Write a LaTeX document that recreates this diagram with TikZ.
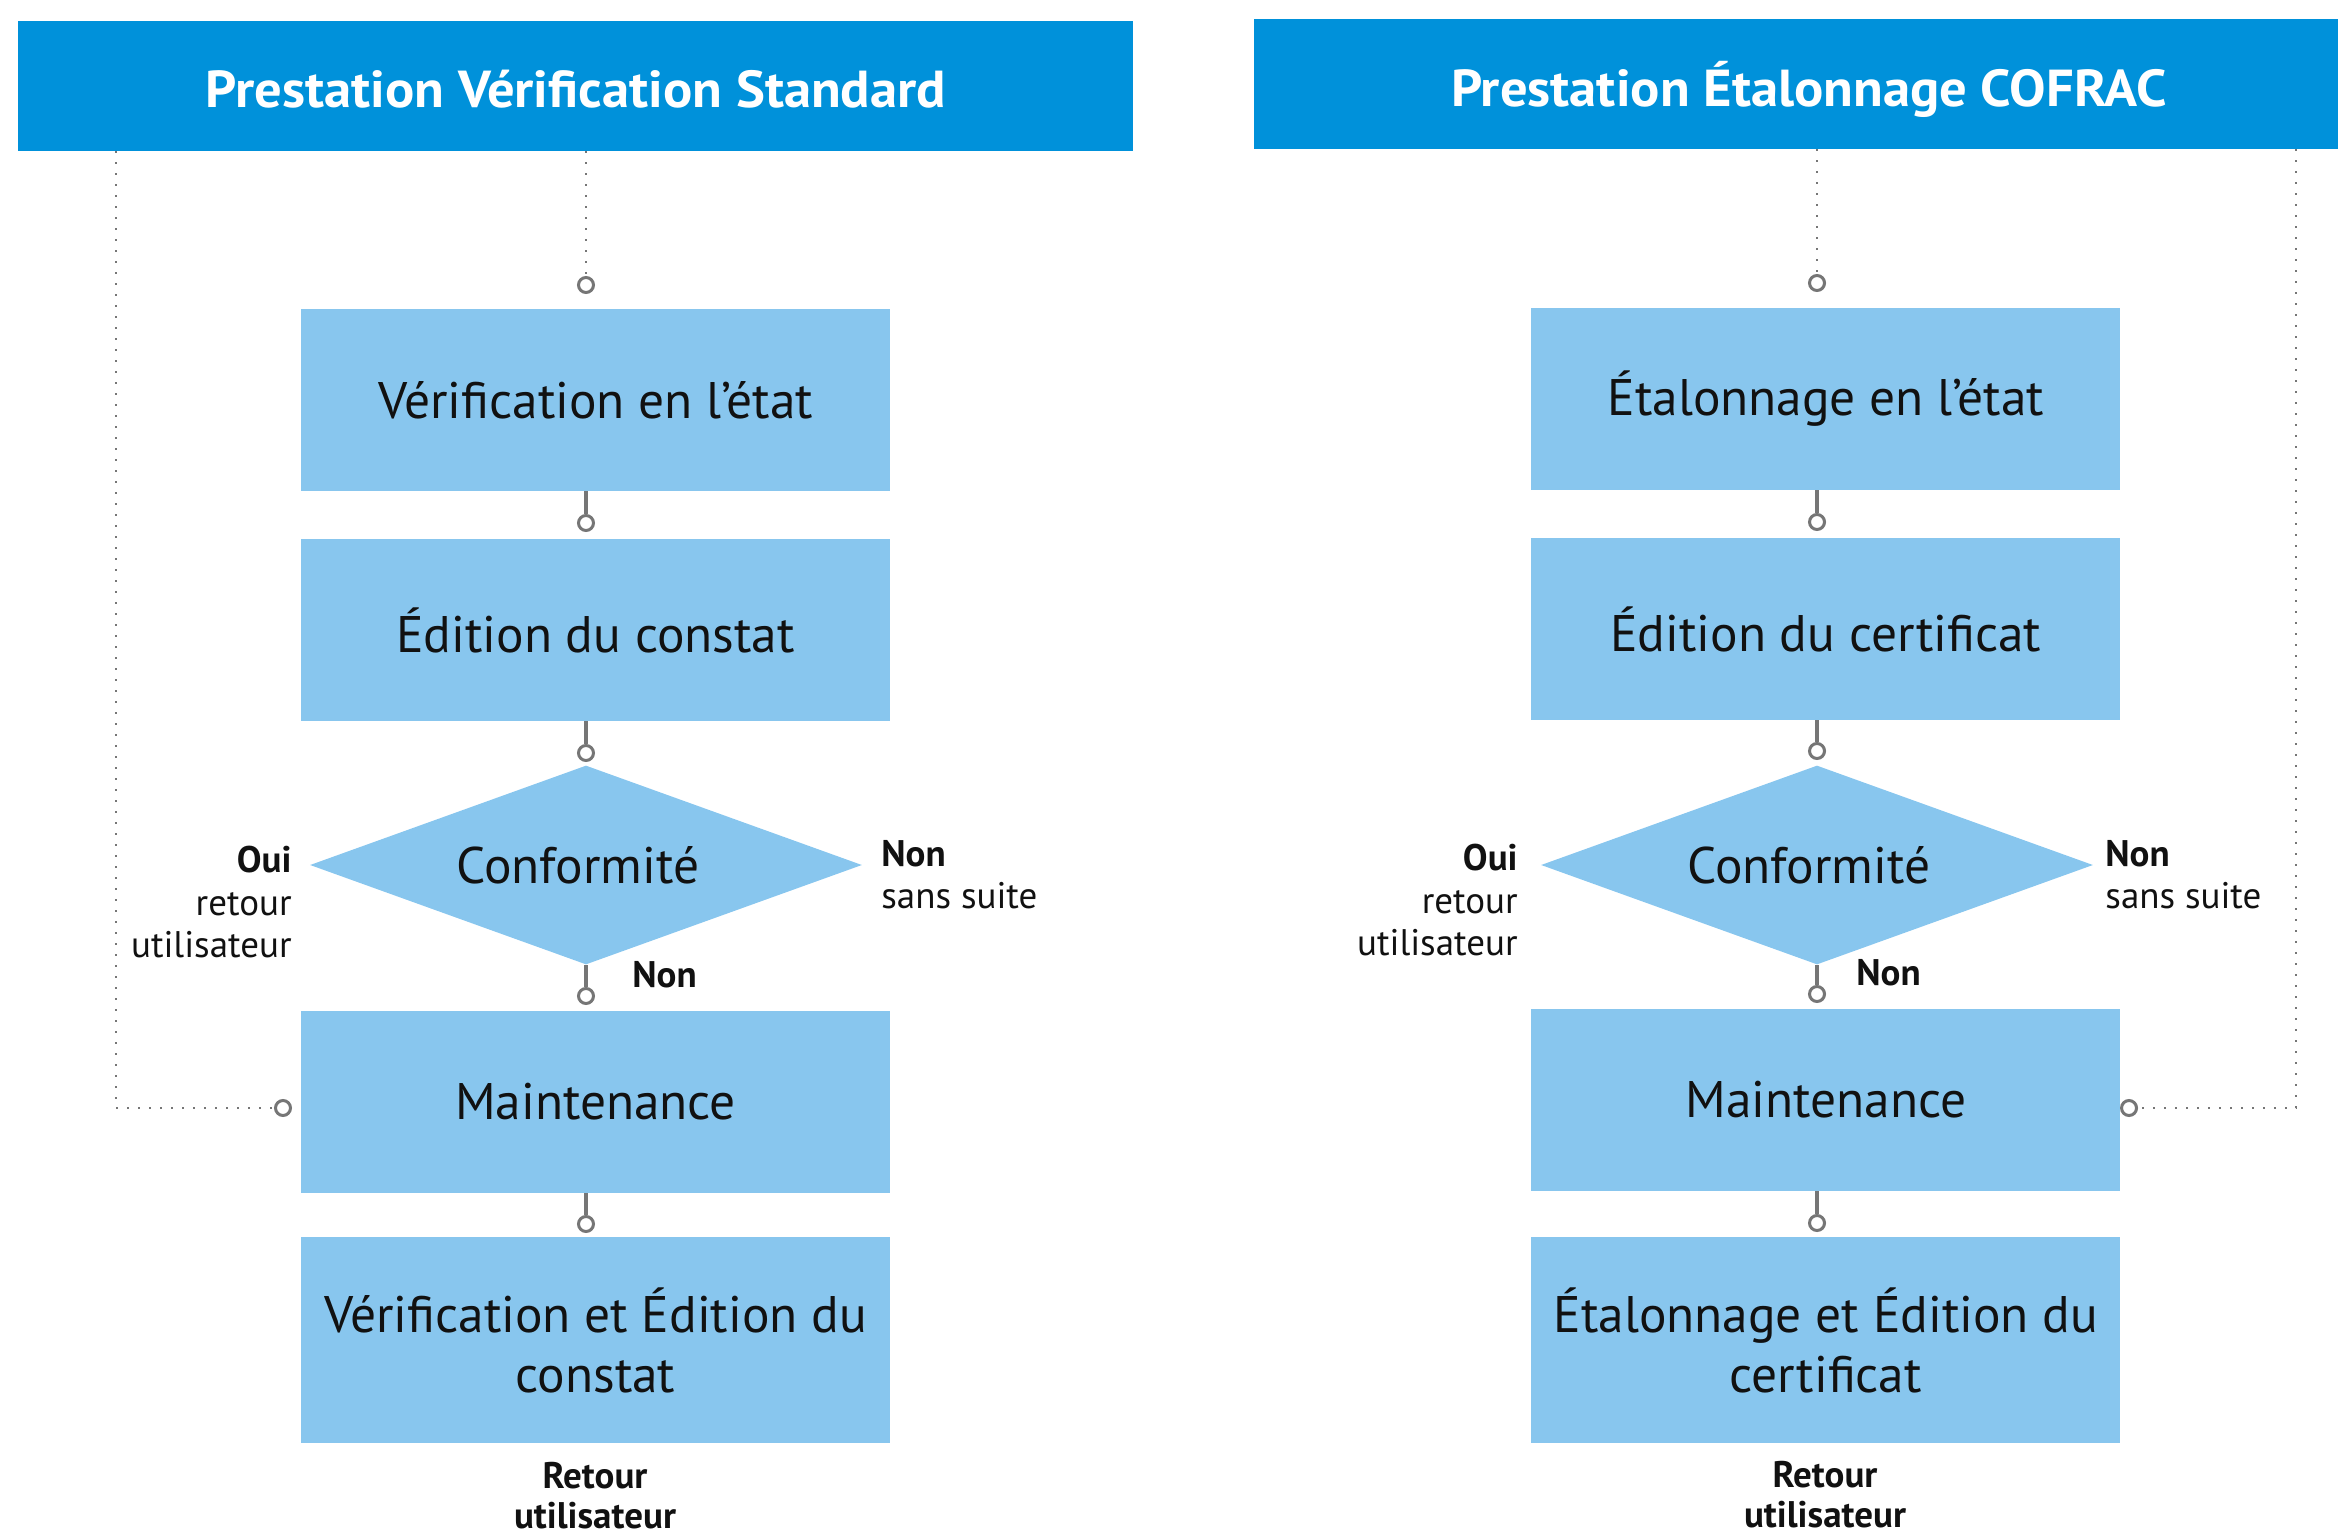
\documentclass[tikz,border=0pt]{standalone}
\usepackage{fontspec}
\setmainfont{PT Sans}
\newfontfamily\titlefont[FakeStretch=1.05]{PT Sans}
\usetikzlibrary{shapes.geometric}
\definecolor{hdr}{RGB}{0,145,218}
\definecolor{bx}{RGB}{136,198,238}
\definecolor{cn}{RGB}{118,118,118}
\definecolor{txt}{RGB}{17,17,17}
\begin{document}
\begin{tikzpicture}[x=0.5pt,y=-0.5pt,
  hdrbox/.style={fill=hdr,draw=none,inner sep=0pt},
  titletxt/.style={text=white,font=\titlefont\fontsize{26}{30}\selectfont\bfseries,inner sep=0pt,text height=18.2pt,text depth=0pt},
  stepbox/.style={fill=bx,draw=none,minimum width=294.5pt,minimum height=91pt,inner sep=0pt,
     text=txt,font=\fontsize{25.7}{30}\selectfont,align=center},
  decision/.style={diamond,fill=bx,draw=none,aspect=2.77,minimum width=276pt,minimum height=99.5pt,inner sep=0pt,
     text=txt,font=\fontsize{25.7}{30}\selectfont},
  pinc/.style={circle,draw=cn,fill=white,line width=1.5pt,minimum size=7.5pt,inner sep=0pt},
  conn/.style={draw=cn,line width=1.6pt},
  dots/.style={draw=cn,line width=1pt,dash pattern=on 1pt off 4.5pt},
  lbl/.style={text=txt,font=\fontsize{18.5}{22}\selectfont,inner sep=0pt,text height=13pt,text depth=0pt},
  lblb/.style={lbl,font=\fontsize{18.5}{22}\selectfont\bfseries}
]
\useasboundingbox (0,0) rectangle (2338,1536);

% ---------- left column ----------
\node[hdrbox,minimum width=557.5pt,minimum height=65pt] (h1) at (575.5,86) {};
\node[titletxt] (t1) at (576,89) {Prestation Vérification Standard};

\node[stepbox] (b1) at (595.5,400) {Vérification en l’état};
\node[stepbox] (b2) at (595.5,630) {Édition du constat};
\node[decision] (d1) at (586,865) {\raisebox{-2pt}{Conformité}\hspace*{8pt}};
\node[stepbox] (b3) at (595.5,1102) {Maintenance};
\node[stepbox,minimum height=103pt] (b4) at (595.5,1340) {Vérification et Édition du\\constat};

\node[pinc] (c1) at (586,285) {};
\node[pinc] (c2) at (586,523) {};
\node[pinc] (c3) at (586,753) {};
\node[pinc] (c4) at (586,996) {};
\node[pinc] (c5) at (586,1224) {};
\node[pinc] (cm1) at (283,1108) {};
\coordinate (lcorner) at (116,1108);

\draw[dots] (h1.south -| c1) -- (c1.north);
\draw[conn] (b1.south -| c2) -- (c2.north);
\draw[conn] (b2.south -| c3) -- (c3.north);
\draw[conn] (d1.south) -- (c4.north);
\draw[conn] (b3.south -| c5) -- (c5.north);
\draw[dots] (h1.south -| lcorner) -- (lcorner) -- (cm1.west);

\node[lblb,anchor=east] (lo1) at (292,859) {Oui};
\node[lbl,anchor=east] (lo2) at (292,902) {retour};
\node[lbl,anchor=east] (lo3) at (292,944) {utilisateur};
\node[lblb,anchor=west] (ln1) at (881,853) {Non};
\node[lbl,anchor=west] (ln2) at (881,895) {sans suite};
\node[lblb,anchor=west] (ln3) at (632,974) {Non};
\node[lblb] (lr1) at (595,1475) {Retour};
\node[lblb] (lr2) at (595,1515) {utilisateur};

% ---------- right column ----------
\node[hdrbox,minimum width=542pt,minimum height=65pt] (h2) at (1796,84) {};
\node[titletxt] (t2) at (1809,88) {Prestation Étalonnage COFRAC};

\node[stepbox] (r1) at (1825.8,399) {Étalonnage en l’état};
\node[stepbox] (r2) at (1825.8,629) {Édition du certificat};
\node[decision] (d2) at (1817,865) {\raisebox{-2pt}{Conformité}\hspace*{8pt}};
\node[stepbox] (r3) at (1825.8,1100) {Maintenance};
\node[stepbox,minimum height=103pt] (r4) at (1825.8,1340) {Étalonnage et Édition du\\certificat};

\node[pinc] (e1) at (1817,283) {};
\node[pinc] (e2) at (1817,522) {};
\node[pinc] (e3) at (1817,751) {};
\node[pinc] (e4) at (1817,994) {};
\node[pinc] (e5) at (1817,1223) {};
\node[pinc] (cm2) at (2129,1108) {};
\coordinate (rcorner) at (2296,1108);

\draw[dots] (h2.south -| e1) -- (e1.north);
\draw[conn] (r1.south -| e2) -- (e2.north);
\draw[conn] (r2.south -| e3) -- (e3.north);
\draw[conn] (d2.south) -- (e4.north);
\draw[conn] (r3.south -| e5) -- (e5.north);
\draw[dots] (h2.south -| rcorner) -- (rcorner) -- (cm2.east);

\node[lblb,anchor=east] (ro1) at (1518,857) {Oui};
\node[lbl,anchor=east] (ro2) at (1518,900) {retour};
\node[lbl,anchor=east] (ro3) at (1518,942) {utilisateur};
\node[lblb,anchor=west] (rn1) at (2105,853) {Non};
\node[lbl,anchor=west] (rn2) at (2105,895) {sans suite};
\node[lblb,anchor=west] (rn3) at (1856,972) {Non};
\node[lblb] (rr1) at (1825,1474) {Retour};
\node[lblb] (rr2) at (1825,1514) {utilisateur};
\end{tikzpicture}
\end{document}
